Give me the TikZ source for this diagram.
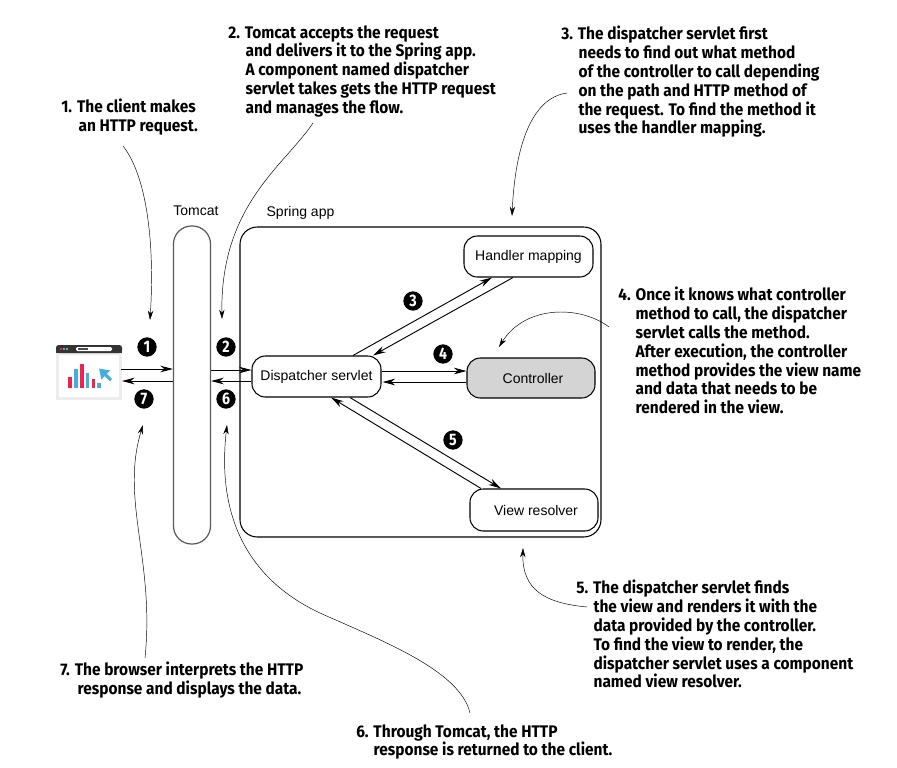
\documentclass[tikz,border=0pt]{standalone}
\usepackage{fontspec}
\setmainfont{Liberation Sans}
\newfontfamily\notefont[FakeStretch=0.92]{Fira Sans}
\newfontfamily\badgefont[FakeStretch=0.85]{Fira Sans}
\usetikzlibrary{arrows.meta,calc}
\definecolor{iconblue}{HTML}{45ADE0}
\definecolor{iconred}{HTML}{EE2352}
\tikzset{
  box/.style={draw=#1,line width=0.8pt,rounded corners=10pt,inner sep=0pt,font=\fontsize{10.5}{12}\selectfont},
  box/.default=black,
  flow/.style={draw=black,line width=0.7pt,-{Stealth[length=9.5pt,width=5pt]}},
  callout/.style={draw=black,line width=0.35pt,-{Stealth[length=7pt,width=4pt]}},
  badge/.style={circle,fill=black,text=white,inner sep=0pt,minimum size=14.5pt,font=\badgefont\bfseries\fontsize{12.5}{12}\selectfont},
  note/.style={anchor=north west,inner sep=0pt,align=left,font=\notefont\bfseries\fontsize{12.6}{14.1}\selectfont},
  plain/.style={inner sep=0pt,font=\fontsize{10.5}{12}\selectfont}
}
\newcommand{\hang}{\hspace*{13pt}}
\begin{document}
\begin{tikzpicture}[x=0.75pt,y=-0.75pt]
\useasboundingbox (0,0) rectangle (897,768);
% containers
\node[box=black!65,rounded corners=13.5pt,minimum width=37*0.75pt,minimum height=318*0.75pt,line width=0.9pt] (tomcat) at (192,385) {};
\node[box,rounded corners=13pt,minimum width=361*0.75pt,minimum height=310*0.75pt] (spring) at (420.5,382) {};
\node[plain] (tomcatlabel) at (196,211) {Tomcat};
\node[plain] (springlabel) at (300.5,213) {Spring app};
% components
\node[box,minimum width=129*0.75pt,minimum height=41*0.75pt] (handler) at (528.5,256.5) {Handler mapping};
\node[box,minimum width=129*0.75pt,minimum height=41*0.75pt] (disp) at (316.5,376.5) {Dispatcher servlet};
\node[box,fill=black!17,minimum width=128*0.75pt,minimum height=40*0.75pt] (ctrl) at (531,378) {\hspace*{3pt}Controller};
\node[box,minimum width=128*0.75pt,minimum height=42*0.75pt] (view) at (534,510) {\hspace*{3pt}View resolver};
% browser icon
\coordinate (browser) at (89,372);
\fill[black!7] (56,350) rectangle (122,400);
\fill[white] (59,355) rectangle (119,397);
\fill[black!80,rounded corners=2pt] (56,345) rectangle (122,353);
\fill[black!80] (56,350) rectangle (122,352.5);
\fill[white,rounded corners=1pt] (76,347) rectangle (112,351);
\fill[black!70] (78,348.2) rectangle (88,349.8);
\fill[iconred] (60,347.7) rectangle (62,349.7);
\fill[iconblue] (63,347.7) rectangle (65,349.7);
\fill[black!40] (66,347.7) rectangle (68,349.7);
\fill[iconred] (68,377) rectangle (72,388);
\fill[iconblue] (74,369) rectangle (77.5,388);
\fill[iconred] (80,364) rectangle (83.5,388);
\fill[iconblue] (86,373) rectangle (89,388);
\fill[iconred] (92,379) rectangle (95,388);
\fill[iconblue] (97,383) rectangle (101,388);
\draw[iconblue,line width=2.4pt,-{Stealth[length=7pt,width=9pt,inset=0pt]}] (111,380) -- (99,368.5);
% flows
\draw[flow] ($(browser)+(32,-3)$) -- ($(tomcat.west)+(0,-16)$);
\draw[flow] ($(tomcat.west)+(0,-4)$) -- ($(browser)+(33,9)$);
\draw[flow] ($(tomcat.east)+(0,-15)$) -- ($(disp.west)+(0,-6.5)$);
\draw[flow] ($(disp.west)+(0,4.5)$) -- ($(tomcat.east)+(0,-4)$);
\draw[flow] ($(disp.north)+(36.5,0)$) -- ($(handler.south)+(-36.5,0)$);
\draw[flow] ($(handler.south)+(-15.5,0)$) -- ($(disp.north)+(56.5,0)$);
\draw[flow] ($(disp.east)+(0,-5.5)$) -- ($(ctrl.west)+(0,-7)$);
\draw[flow] ($(ctrl.west)+(0,4)$) -- ($(disp.east)+(1,5.5)$);
\draw[flow] ($(disp.south)+(33.5,0)$) -- ($(view.north)+(-33,0)$);
\draw[flow] ($(view.north)+(-53,0)$) -- ($(disp.south)+(14.5,0)$);
% badges
\node[badge] (b1) at (147,347) {1};
\node[badge] (b2) at (226,347) {2};
\node[badge] (b3) at (413,301) {3};
\node[badge] (b4) at (443,354) {4};
\node[badge] (b5) at (453,440) {5};
\node[badge] (b6) at (226,399) {6};
\node[badge] (b7) at (144,399) {7};
% notes
\node[note] (n1) at (61,99) {1. The client makes\\\hang an HTTP request.};
\node[note] (n2) at (228,25) {2. Tomcat accepts the request\\\hang and delivers it to the Spring app.\\\hang A component named dispatcher\\\hang servlet takes gets the HTTP request\\\hang and manages the flow.};
\node[note] (n3) at (561,26) {3. The dispatcher servlet first\\\hang needs to find out what method\\\hang of the controller to call depending\\\hang on the path and HTTP method of\\\hang the request. To find the method it\\\hang uses the handler mapping.};
\node[note] (n4) at (618,287) {4. Once it knows what controller\\\hang method to call, the dispatcher\\\hang servlet calls the method.\\\hang After execution, the controller\\\hang method provides the view name\\\hang and data that needs to be\\\hang rendered in the view.};
\node[note] (n5) at (576,580) {5. The dispatcher servlet finds\\\hang the view and renders it with the\\\hang data provided by the controller.\\\hang To find the view to render, the\\\hang dispatcher servlet uses a component\\\hang named view resolver.};
\node[note] (n6) at (356,724) {6. Through Tomcat, the HTTP\\\hang response is returned to the client.};
\node[note] (n7) at (60,662) {7. The browser interprets the HTTP\\\hang response and displays the data.};
% callouts
\coordinate (t1) at (150,320);
\coordinate (t2) at (222,319);
\coordinate (t3) at (512,216);
\coordinate (t4) at (499,347);
\coordinate (t5) at (523,548);
\coordinate (t6) at (227,425);
\coordinate (t7) at (143,425);
\coordinate (m6) at (320,613);
\draw[callout] ($(n1.north west)+(62,47)$) .. controls (146,175) and (155,240) .. (t1);
\draw[callout] ($(n2.north west)+(85,98)$) .. controls (285,165) and (220,205) .. (t2);
\draw[callout] ($(n3.north west)+(6,67)$) .. controls (530,98) and (515,150) .. (t3);
\draw[callout] ($(n4.north west)+(-9,40)$) .. controls (580,305) and (525,305) .. (t4);
\draw[callout] ($(n5.north west)+(11,27)$) .. controls (545,603) and (522,590) .. (t5);
\draw[callout] ($(n6.north west)+(114,-11)$) .. controls (460,670) and (380,640) .. (m6) .. controls (260,585) and (215,530) .. (t6);
\draw[callout] ($(n7.north west)+(85,-4)$) .. controls (155,560) and (120,500) .. (t7);
\end{tikzpicture}
\end{document}
